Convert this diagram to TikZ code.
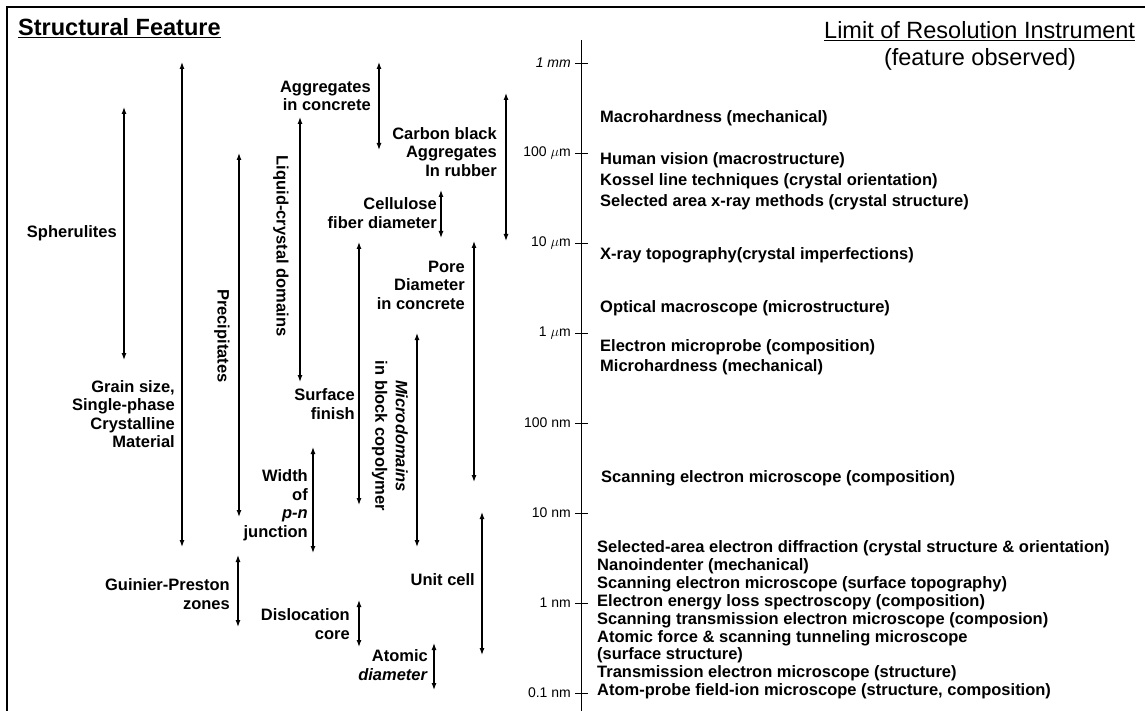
\documentclass[tikz,border=0pt]{standalone}
\usepackage{fontspec}
\setmainfont{Liberation Sans}
\usetikzlibrary{arrows.meta}

\tikzset{
  feat/.style={font=\fontsize{16.5}{18.5}\selectfont\bfseries, align=right, anchor=east, inner sep=0pt},
  inst/.style={font=\fontsize{16.5}{18}\selectfont\bfseries, anchor=base west, inner sep=0pt},
  tic/.style={font=\fontsize{14}{16}\selectfont, anchor=east, inner sep=0pt},
  head/.style={font=\fontsize{23.5}{26}\selectfont, inner sep=0pt},
  rng/.style={{Latex[length=7pt,width=5pt]}-{Latex[length=7pt,width=5pt]}, line width=1.2pt},
}

\begin{document}
\begin{tikzpicture}[x=1pt,y=-1pt]
        \useasboundingbox (0,0) rectangle (1145,711);
        % frame
        \coordinate (fbl) at (7,711);
        \coordinate (ftl) at (7,7);
        \coordinate (ftr) at (1145,7);
        \draw[line width=1.3pt] (fbl) -- (ftl) -- (ftr);

        % headings
        \node[head, font=\fontsize{23.5}{26}\selectfont\bfseries, anchor=base west] (hfeat) at (18,36) {\underline{Structural Feature}};
        \node[head, anchor=base west] (hlim) at (824,39) {\underline{Limit of Resolution Instrument}};
        \node[head, anchor=base] (hobs) at (980,66) {(feature observed)};

        % scale
        \coordinate (axtop) at (581,40);
        \coordinate (axbot) at (581,711);
        \draw[line width=0.9pt] (axtop) -- (axbot);

        \coordinate (t1a) at (575,63);  \coordinate (t1b) at (588,63);
        \coordinate (t2a) at (575,153); \coordinate (t2b) at (588,153);
        \coordinate (t3a) at (575,243); \coordinate (t3b) at (588,243);
        \coordinate (t4a) at (575,333); \coordinate (t4b) at (588,333);
        \coordinate (t5a) at (575,423); \coordinate (t5b) at (588,423);
        \coordinate (t6a) at (575,513); \coordinate (t6b) at (588,513);
        \coordinate (t7a) at (575,603); \coordinate (t7b) at (588,603);
        \coordinate (t8a) at (575,693); \coordinate (t8b) at (588,693);
        \draw[line width=0.9pt] (t1a) -- (t1b) (t2a) -- (t2b) (t3a) -- (t3b) (t4a) -- (t4b)
              (t5a) -- (t5b) (t6a) -- (t6b) (t7a) -- (t7b) (t8a) -- (t8b);

        \node[tic] (l1mm)   at (571,63)  {\textit{1 mm}};
        \node[tic] (l100um) at (571,153) {100 $\mu$m};
        \node[tic] (l10um)  at (571,243) {10 $\mu$m};
        \node[tic] (l1um)   at (571,333) {1 $\mu$m};
        \node[tic] (l100nm) at (571,423) {100 nm};
        \node[tic] (l10nm)  at (571,513) {10 nm};
        \node[tic] (l1nm)   at (571,603) {1 nm};
        \node[tic] (l01nm)  at (571,693) {0.1 nm};

        % structural features
        \node[feat] (spher)  at (117,233) {Spherulites};
        \node[feat] (grain)  at (175,414) {Grain size,\\Single-phase\\Crystalline\\Material};
        \node[feat, rotate=-90, anchor=center, align=center] (precip) at (222,336) {Precipitates};
        \node[feat] (guinier) at (230,594) {Guinier-Preston\\zones};
        \node[feat, rotate=-90, anchor=center, align=center] (liquid) at (281,246) {Liquid-crystal domains};
        \node[feat] (aggr)   at (371,96)  {Aggregates\\in concrete};
        \node[feat] (carbon) at (497,152) {Carbon black\\Aggregates\\In rubber};
        \node[feat] (cellu)  at (437,213) {Cellulose\\fiber diameter};
        \node[feat] (pore)   at (465,285) {Pore\\Diameter\\in concrete};
        \node[feat] (surf)   at (355,404) {Surface\\finish};
        \node[feat, rotate=-90, anchor=center, align=center, font=\fontsize{16.5}{20.5}\selectfont\bfseries] (micro) at (390,436) {\textit{Microdomains}\\in block copolymer};
        \node[feat] (pnjunc) at (308,505) {Width\\of\\\textit{p-n}\\junction};
        \node[feat] (unit)   at (475,580) {Unit cell};
        \node[feat] (disloc) at (350,624) {Dislocation\\core};
        \node[feat] (atomic) at (428,665) {Atomic\\\textit{diameter}};

        % ranges
        \coordinate (spher-t) at (124,107);  \coordinate (spher-b) at (124,360);
        \coordinate (grain-t) at (182,62);   \coordinate (grain-b) at (182,547);
        \coordinate (precip-t) at (239,153); \coordinate (precip-b) at (239,517);
        \coordinate (guin-t) at (238,555);   \coordinate (guin-b) at (238,627);
        \coordinate (liq-t) at (300,117);    \coordinate (liq-b) at (300,382);
        \coordinate (aggr-t) at (379,62);    \coordinate (aggr-b) at (379,150);
        \coordinate (carb-t) at (506,93);    \coordinate (carb-b) at (506,241);
        \coordinate (cell-t) at (441,190);   \coordinate (cell-b) at (441,238);
        \coordinate (pore-t) at (474,241);   \coordinate (pore-b) at (474,482);
        \coordinate (surf-t) at (359,242);   \coordinate (surf-b) at (359,505);
        \coordinate (micro-t) at (417,333);  \coordinate (micro-b) at (417,547);
        \coordinate (pn-t) at (313,447);     \coordinate (pn-b) at (313,553);
        \coordinate (unit-t) at (482,512);   \coordinate (unit-b) at (482,655);
        \coordinate (disl-t) at (359,600);   \coordinate (disl-b) at (359,647);
        \coordinate (atom-t) at (434,643);   \coordinate (atom-b) at (434,690);

        \path[rng] (spher-t) edge (spher-b);
        \path[rng] (grain-t) edge (grain-b);
        \path[rng] (precip-t) edge (precip-b);
        \path[rng] (guin-t) edge (guin-b);
        \path[rng] (liq-t) edge (liq-b);
        \path[rng] (aggr-t) edge (aggr-b);
        \path[rng] (carb-t) edge (carb-b);
        \path[rng] (cell-t) edge (cell-b);
        \path[rng] (pore-t) edge (pore-b);
        \path[rng] (surf-t) edge (surf-b);
        \path[rng] (micro-t) edge (micro-b);
        \path[rng] (pn-t) edge (pn-b);
        \path[rng] (unit-t) edge (unit-b);
        \path[rng] (disl-t) edge (disl-b);
        \path[rng] (atom-t) edge (atom-b);

        % instruments
        \node[inst] (macroh)  at (600,123) {Macrohardness (mechanical)};
        \node[inst] (vision)  at (600,165) {Human vision (macrostructure)};
        \node[inst] (kossel)  at (600,186) {Kossel line techniques (crystal orientation)};
        \node[inst] (xraysel) at (600,207) {Selected area x-ray methods (crystal structure)};
        \node[inst] (xraytop) at (600,259) {X-ray topography(crystal imperfections)};
        \node[inst] (optical) at (600,312) {Optical macroscope (microstructure)};
        \node[inst] (eprobe)  at (600,351) {Electron microprobe (composition)};
        \node[inst] (microh)  at (600,371) {Microhardness (mechanical)};
        \node[inst] (semcomp) at (601,482) {Scanning electron microscope (composition)};
        \node[inst] (saed)    at (597,552) {Selected-area electron diffraction (crystal structure \& orientation)};
        \node[inst] (nano)    at (597,570) {Nanoindenter (mechanical)};
        \node[inst] (semtop)  at (597,588) {Scanning electron microscope (surface topography)};
        \node[inst] (eels)    at (597,606) {Electron energy loss spectroscopy (composition)};
        \node[inst] (stem)    at (597,624) {Scanning transmission electron microscope (composion)};
        \node[inst] (afm)     at (597,642) {Atomic force \& scanning tunneling microscope};
        \node[inst] (afmsurf) at (597,659) {(surface structure)};
        \node[inst] (tem)     at (597,677) {Transmission electron microscope (structure)};
        \node[inst] (apfim)   at (597,695) {Atom-probe field-ion microscope (structure, composition)};
    \end{tikzpicture}
\end{document}
